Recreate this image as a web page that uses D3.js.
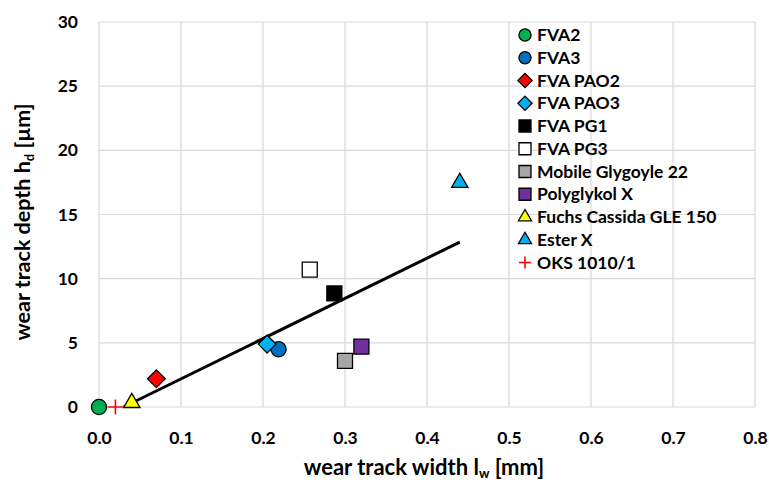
<!DOCTYPE html>
<html>
<head>
<meta charset="utf-8">
<script src="https://cdn.jsdelivr.net/npm/d3@7"></script>
<style>
  body { margin: 0; background: #fff; }
  text { font-family: Lato, "Open Sans", sans-serif; font-weight: bold; }
</style>
</head>
<body>
<svg id="svg" width="769" height="483"></svg>
<script>
// ****************************************
// Data

var lubricants = ['FVA2', 'FVA3', 'FVA PAO2', 'FVA PAO3', 'FVA PG1', 'FVA PG3', 'Mobile Glygoyle 22', 'Polyglykol X', 'Fuchs Cassida GLE 150', 'Ester X', 'OKS 1010/1'];
var widths = [0.0, 0.219, 0.07, 0.205, 0.287, 0.257, 0.30, 0.32, 0.04, 0.44, 0.02];
var depths = [0.0, 4.5, 2.2, 4.9, 8.85, 10.7, 3.6, 4.7, 0.25, 17.4, 0.0];
var shapes = ['circle', 'circle', 'diamond', 'diamond', 'square', 'square', 'square', 'square', 'triangle', 'triangle', 'plus'];
var fills = ['#00b050', '#0070c0', '#ff0000', '#00b0f0', '#000000', '#ffffff', '#a6a6a6', '#7030a0', '#ffff00', '#00b0f0', '#ff0000'];

var trend_x = [0.03, 0.44];
var trend_y = [0.0, 12.85];

var x_ticks = [0, 0.1, 0.2, 0.3, 0.4, 0.5, 0.6, 0.7, 0.8];
var y_ticks = [0, 5, 10, 15, 20, 25, 30];

// ****************************************
// Scales

var svg = d3.select('#svg');
var x = d3.scaleLinear().domain([0, 0.8]).range([99, 755]);
var y = d3.scaleLinear().domain([0, 30]).range([407, 22]);

// ****************************************
// Grid

var grid = svg.append('g');
grid.selectAll('.vx').data(x_ticks).enter().append('line')
  .attr('x1', d => x(d)).attr('x2', d => x(d)).attr('y1', y(0)).attr('y2', y(30))
  .attr('stroke', '#d9d9d9').attr('stroke-width', 1.2);
grid.selectAll('.hy').data(y_ticks).enter().append('line')
  .attr('x1', x(0)).attr('x2', x(0.8)).attr('y1', d => y(d)).attr('y2', d => y(d))
  .attr('stroke', '#d9d9d9').attr('stroke-width', 1.2);

// ****************************************
// Axes (labels only, Excel style)

var xAxis = svg.append('g').attr('transform', 'translate(0,' + y(0) + ')')
  .call(d3.axisBottom(x).tickValues(x_ticks).tickFormat(d3.format('.1f')).tickSize(0).tickPadding(25));
var yAxis = svg.append('g').attr('transform', 'translate(' + x(0) + ',0)')
  .call(d3.axisLeft(y).tickValues(y_ticks).tickSize(0).tickPadding(21));
[xAxis, yAxis].forEach(a => {
  a.select('.domain').remove();
  a.selectAll('text').attr('font-size', 17.5).attr('fill', '#000')
    .style('font-family', 'Lato, sans-serif').style('font-weight', 'bold');
});

// axis titles
var xt = svg.append('text').attr('x', 424).attr('y', 475).attr('text-anchor', 'middle').attr('font-size', 22);
xt.append('tspan').text('wear track width l');
xt.append('tspan').attr('font-size', 13).attr('dy', 3).text('w');
xt.append('tspan').attr('dy', -3).text(' [mm]');

var yt = svg.append('text').attr('transform', 'translate(30,' + 222 + ') rotate(-90)').attr('text-anchor', 'middle').attr('font-size', 21.5);
yt.append('tspan').text('wear track depth h');
yt.append('tspan').attr('font-size', 13).attr('dy', 4).text('d');
yt.append('tspan').attr('dy', -4).text(' [\u00b5m]');

// ****************************************
// Trend line

svg.append('line')
  .attr('x1', x(trend_x[0])).attr('y1', y(trend_y[0]))
  .attr('x2', x(trend_x[1])).attr('y2', y(trend_y[1]))
  .attr('stroke', '#000').attr('stroke-width', 3);

// ****************************************
// Markers

function symbolPath(shape, s) {
  var types = { circle: d3.symbolCircle, diamond: d3.symbolDiamond2, square: d3.symbolSquare, triangle: d3.symbolTriangle2 };
  return d3.symbol(types[shape]).size(s*s*(shape === 'circle' ? 0.8 : shape === 'triangle' ? 0.85 : shape === 'diamond' ? 0.9 : 1))();
}

function drawMarker(g, i, s) {
  if (shapes[i] === 'plus') {
    var h = s/2;
    g.append('path').attr('d', 'M' + (-h) + ',0H' + h + 'M0,' + (-h) + 'V' + h)
      .attr('stroke', fills[i]).attr('stroke-width', 1.6).attr('fill', 'none');
  } else {
    g.append('path').attr('d', symbolPath(shapes[i], s))
      .attr('fill', fills[i]).attr('stroke', '#000').attr('stroke-width', 1.3);
  }
}

lubricants.forEach((name, i) => {
  var g = svg.append('g').attr('transform', 'translate(' + x(widths[i]) + ',' + (y(depths[i]) + (shapes[i] === 'triangle' ? -1 : 0)) + ')');
  drawMarker(g, i, 15);
});

// ****************************************
// Legend

var legend = svg.append('g').attr('transform', 'translate(525,35)');
lubricants.forEach((name, i) => {
  var row = legend.append('g').attr('transform', 'translate(0,' + (i*22.75) + ')');
  drawMarker(row.append('g'), i, 12);
  row.append('text').attr('x', 12).attr('y', 6).attr('font-size', 17.5).attr('fill', '#000').text(name);
});
</script>
</body>
</html>
